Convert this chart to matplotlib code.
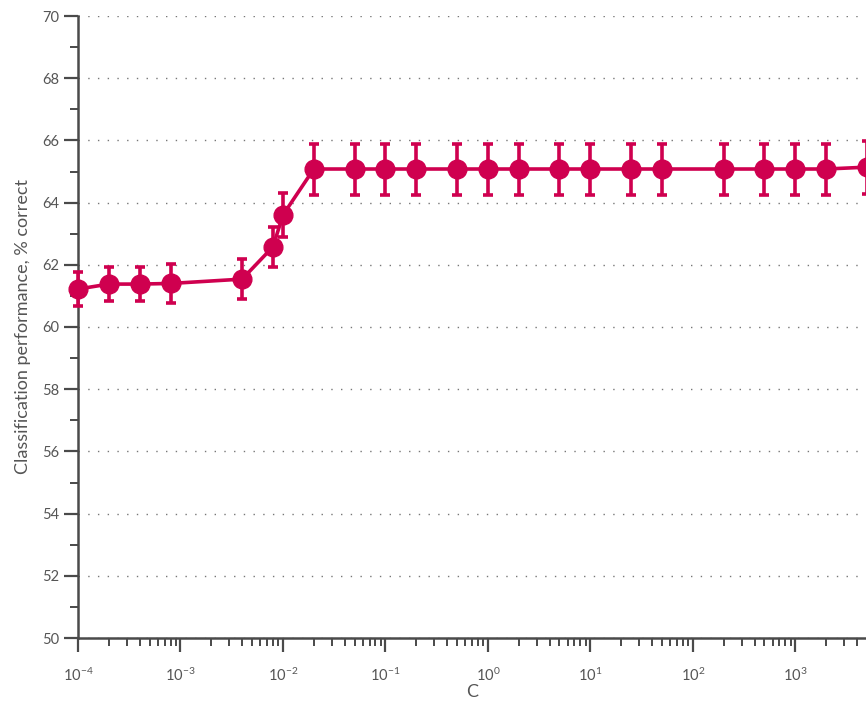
import matplotlib
matplotlib.use("Agg")
import matplotlib.pyplot as plt
from matplotlib.ticker import LogLocator, MultipleLocator, LogFormatterSciNotation, FixedLocator

plt.rcParams['font.family'] = ['Lato', 'DejaVu Sans']
plt.rcParams['mathtext.fontset'] = 'custom'
plt.rcParams['mathtext.rm'] = 'Lato'
plt.rcParams['mathtext.it'] = 'Lato:italic'

C_values = [1e-4, 2e-4, 4e-4, 8e-4, 4e-3, 8e-3, 1e-2, 2e-2, 5e-2, 1e-1, 2e-1, 5e-1,
            1, 2, 5, 10, 25, 50, 200, 500, 1000, 2000, 5000]
accuracy = [61.22, 61.38, 61.38, 61.40, 61.54, 62.58, 63.60, 65.08, 65.08, 65.08, 65.08, 65.08,
            65.08, 65.08, 65.08, 65.08, 65.08, 65.08, 65.08, 65.08, 65.08, 65.08, 65.14]
errors = [0.55, 0.56, 0.56, 0.63, 0.65, 0.65, 0.72, 0.82, 0.82, 0.82, 0.82, 0.82,
          0.82, 0.82, 0.82, 0.82, 0.82, 0.82, 0.82, 0.82, 0.82, 0.82, 0.85]
x_major_ticks = [1e-4, 1e-3, 1e-2, 1e-1, 1e0, 1e1, 1e2, 1e3]

color = '#CF004F'
axis_color = '#4a4a4a'
text_color = '#555555'

fig = plt.figure(figsize=(8.66, 7.04), dpi=100)
ax = fig.add_axes([78/866, 66/704, 1 - 78/866, (638-16)/704])

ax.errorbar(C_values, accuracy, yerr=errors, color=color, lw=2.6, marker='o',
            markersize=13.5, elinewidth=2.6, capsize=3.5, capthick=2.6, clip_on=False, zorder=3)

ax.set_xscale('log')
ax.set_xlim(1e-4, 4900)
ax.set_ylim(50, 70)

ax.yaxis.set_major_locator(MultipleLocator(2))
ax.yaxis.set_minor_locator(MultipleLocator(1))
ax.xaxis.set_major_locator(FixedLocator(x_major_ticks))
ax.xaxis.set_minor_locator(LogLocator(base=10, subs=range(2, 10), numticks=100))
ax.xaxis.set_major_formatter(LogFormatterSciNotation())

for s in ['top', 'right']:
    ax.spines[s].set_visible(False)
for s in ['left', 'bottom']:
    ax.spines[s].set_color(axis_color)
    ax.spines[s].set_linewidth(1.8)

ax.tick_params(which='major', direction='out', length=10, width=1.6, color=axis_color,
               labelcolor=text_color, labelsize=10.5)
ax.tick_params(which='minor', direction='out', length=5.5, width=1.4, color=axis_color)
ax.tick_params(axis='x', which='major', pad=11)

ax.yaxis.grid(True, which='major', linestyle=(0, (1, 6)), color='#777777', lw=1.0)
ax.set_axisbelow(True)

ax.set_xlabel('C', color=text_color, fontsize=13, labelpad=0)
ax.set_ylabel('Classification performance, % correct', color=text_color, fontsize=13, labelpad=8)

fig.savefig('out.png', dpi=100)
